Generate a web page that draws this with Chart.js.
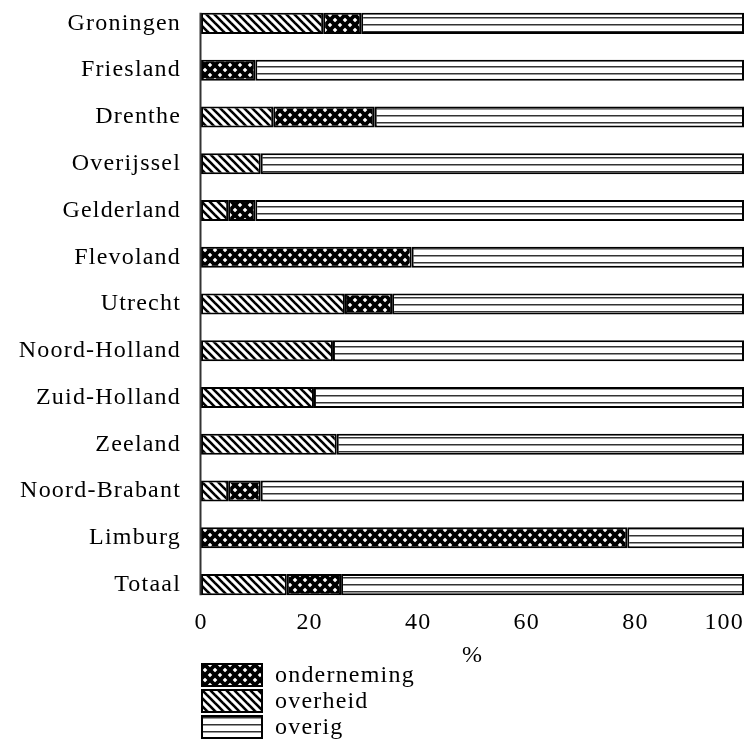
<!DOCTYPE html>
<html><head><meta charset="utf-8">
<script src="https://cdn.jsdelivr.net/npm/chart.js@4/dist/chart.umd.min.js"></script>
<style>html,body{margin:0;padding:0;background:#fff;overflow:hidden}#wrap{width:750px;height:753px;position:relative}</style>
</head><body><div id="wrap"><canvas id="c"></canvas></div>
<script>
const categories = ['Groningen','Friesland','Drenthe','Overijssel','Gelderland','Flevoland','Utrecht','Noord-Holland','Zuid-Holland','Zeeland','Noord-Brabant','Limburg','Totaal'];
const overheid    = [22.5, 0, 13.3, 11, 5, 0, 26.5, 24.3, 20.8, 25, 5, 0, 15.8];
const onderneming = [7, 10, 18.7, 0, 5, 38.8, 8.7, 0, 0, 0, 6, 78.5, 10];
const overig      = [70.5, 90, 68, 89, 90, 61.2, 64.8, 75.7, 79.2, 75, 89, 21.5, 74.2];
const xTicks = [0, 20, 40, 60, 80, 100];
const legendOrder = ['onderneming', 'overheid', 'overig'];
const axisTitle = '%';

const FONT = 'Liberation Serif';
const SPACING = '1.2px';

function makePattern(kind) {
  const c = document.createElement('canvas');
  const g = c.getContext('2d');
  if (kind === 'diag') {
    c.width = c.height = 8;
    g.fillStyle = '#fff'; g.fillRect(0, 0, 8, 8);
    g.strokeStyle = '#000'; g.lineWidth = 2.6;
    for (let k = -1; k <= 1; k++) {
      g.beginPath(); g.moveTo(k * 8 - 8, -8); g.lineTo(k * 8 + 16, 16); g.stroke();
    }
  } else if (kind === 'cross') {
    c.width = c.height = 10;
    g.fillStyle = '#fff'; g.fillRect(0, 0, 10, 10);
    g.strokeStyle = '#000'; g.lineWidth = 3.8;
    for (let k = -1; k <= 1; k++) {
      g.beginPath(); g.moveTo(k * 10 - 10, -10); g.lineTo(k * 10 + 20, 20); g.stroke();
      g.beginPath(); g.moveTo(k * 10 + 20, -10); g.lineTo(k * 10 - 10, 20); g.stroke();
    }
  } else {
    c.width = 8; c.height = 7;
    g.fillStyle = '#fff'; g.fillRect(0, 0, 8, 7);
    g.fillStyle = '#333'; g.fillRect(0, 3, 8, 1.5);
  }
  return g.createPattern(c, 'repeat');
}

const spacingPlugin = {
  id: 'spacing',
  beforeUpdate(chart) { chart.ctx.letterSpacing = SPACING; },
  beforeLayout(chart) { chart.ctx.letterSpacing = SPACING; },
  beforeDraw(chart) {
    chart.ctx.letterSpacing = SPACING;
    // keep the first x tick label centred on its tick, last one kept inside the canvas
    const items = chart.scales.x.getLabelItems();
    if (items.length) {
      const first = items[0];
      first.textAlign = 'center';
      first.options.textAlign = 'center';
    }
  }
};

const axisLinePlugin = {
  id: 'axisLine',
  afterDatasetsDraw(chart) {
    const meta = chart.getDatasetMeta(0);
    const first = meta.data[0], last = meta.data[meta.data.length - 1];
    const x = chart.scales.x.getPixelForValue(0) - 0.5;
    const ctx = chart.ctx;
    ctx.save();
    ctx.strokeStyle = '#333'; ctx.lineWidth = 2;
    ctx.beginPath();
    ctx.moveTo(x, first.y - first.height / 2);
    ctx.lineTo(x, last.y + last.height / 2);
    ctx.stroke();
    ctx.restore();
  }
};

const legendPlugin = {
  id: 'vlegend',
  afterDraw(chart) {
    const ctx = chart.ctx;
    const left = chart.chartArea.left;
    const top = chart.scales.x.bottom - 7;
    ctx.save();
    ctx.letterSpacing = SPACING;
    ctx.font = '24px "' + FONT + '"';
    ctx.textBaseline = 'middle';
    ctx.textAlign = 'left';
    legendOrder.forEach((name, i) => {
      const ds = chart.data.datasets.find(d => d.label === name);
      const y = top + i * 26;
      ctx.fillStyle = ds.backgroundColor;
      ctx.fillRect(left, y, 62, 24);
      ctx.strokeStyle = '#000'; ctx.lineWidth = 2;
      ctx.strokeRect(left + 1, y + 1, 60, 22);
      ctx.fillStyle = '#000';
      ctx.fillText(name, left + 74, y + 13);
    });
    ctx.restore();
  }
};

const diag = makePattern('diag');
const cross = makePattern('cross');
const horiz = makePattern('horiz');

const common = { borderColor: '#000', borderWidth: 2, borderSkipped: false, barPercentage: 0.45, categoryPercentage: 1 };

new Chart(document.getElementById('c'), {
  type: 'bar',
  data: {
    labels: categories,
    datasets: [
      Object.assign({ label: 'overheid', data: overheid, backgroundColor: diag }, common),
      Object.assign({ label: 'onderneming', data: onderneming, backgroundColor: cross }, common),
      Object.assign({ label: 'overig', data: overig, backgroundColor: horiz }, common)
    ]
  },
  options: {
    indexAxis: 'y',
    responsive: true,
    maintainAspectRatio: false,
    animation: false,
    layout: { padding: { left: 0, right: 6, top: 0, bottom: 83 } },
    plugins: { legend: { display: false }, tooltip: { enabled: false } },
    scales: {
      x: {
        stacked: true, min: 0, max: 100,
        afterBuildTicks: s => { s.ticks = xTicks.map(v => ({ value: v })); },
        grid: { display: false, drawTicks: false },
        border: { display: false },
        ticks: { align: 'inner', color: '#000', font: { family: FONT, size: 24 }, padding: 0, maxRotation: 0 },
        title: { display: true, text: axisTitle, color: '#000', font: { family: FONT, size: 24 }, padding: { top: 0, bottom: 0 } },
        afterFit: s => { s.height = 62; s.paddingLeft = 0; s.paddingRight = 0; s.paddingTop = 0; s.paddingBottom = 0; }
      },
      y: {
        stacked: true,
        grid: { display: false, drawTicks: false },
        border: { display: false },
        ticks: { color: '#000', font: { family: FONT, size: 24 }, padding: 20, autoSkip: false },
        afterFit: s => { s.width = 201; s.paddingTop = 0; s.paddingBottom = 0; s.paddingLeft = 0; s.paddingRight = 0; }
      }
    }
  },
  plugins: [spacingPlugin, axisLinePlugin, legendPlugin]
});
</script>
</body></html>
